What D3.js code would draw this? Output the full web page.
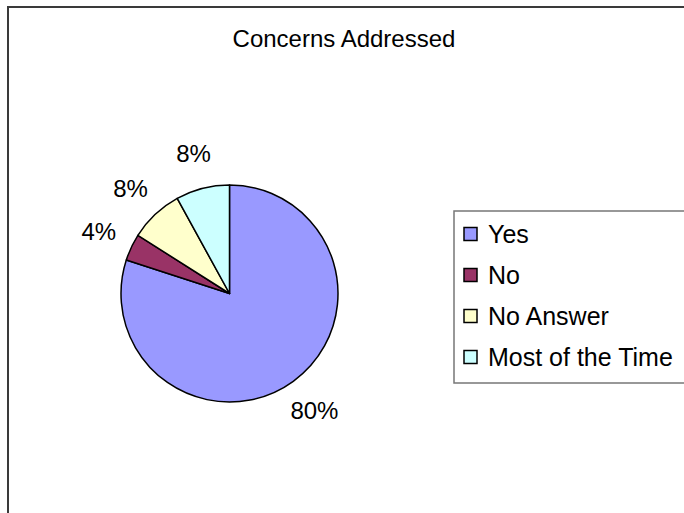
<!DOCTYPE html>
<html>
<head>
<meta charset="utf-8">
<script src="https://cdn.jsdelivr.net/npm/d3@7"></script>
<style>
  html, body { margin: 0; padding: 0; background: #fff; }
  svg { display: block; }
  text { font-family: "Liberation Sans", Arial, sans-serif; fill: #000; }
</style>
</head>
<body>
<svg id="chart" width="684" height="513"></svg>
<script>
// Survey responses: share of answers per category (percent)
const categories = ["Yes", "No", "No Answer", "Most of the Time"];
const values = [80, 4, 8, 8];
const colors = ["#9999FF", "#993366", "#FFFFCC", "#CCFFFF"];
const title = "Concerns Addressed";

const svg = d3.select("#chart");

// outer chart frame (runs past the right and bottom edges)
svg.append("path")
  .attr("d", "M8,520 L8,7 L690,7")
  .attr("fill", "none")
  .attr("stroke", "#3a3a3a")
  .attr("stroke-width", 2);

svg.append("text")
  .attr("x", 344).attr("y", 47)
  .attr("text-anchor", "middle")
  .attr("font-size", 24)
  .text(title);

// pie, starting at 12 o'clock and running clockwise
const cx = 229.5, cy = 293.5, r = 108.5;
const pie = d3.pie().sort(null).value(d => d.v);
const arcs = pie(categories.map((c, i) => ({ c, v: values[i], col: colors[i] })));
const arc = d3.arc().innerRadius(0).outerRadius(r);

const g = svg.append("g").attr("transform", `translate(${cx},${cy})`);
g.selectAll("path.slice")
  .data(arcs)
  .join("path")
  .attr("class", "slice")
  .attr("d", arc)
  .attr("fill", d => d.data.col)
  .attr("stroke", "#000")
  .attr("stroke-width", 1.5)
  .attr("stroke-linejoin", "round");

// percentage labels placed outside the rim
const labelArc = d3.arc().innerRadius(r + 36).outerRadius(r + 36);
const fmt = d => Math.round(d.value / d3.sum(values) * 100) + "%";
g.selectAll("text.lbl")
  .data(arcs)
  .join("text")
  .attr("class", "lbl")
  .attr("transform", d => {
    const [x, y] = labelArc.centroid(d);
    return `translate(${x},${y})`;
  })
  .attr("text-anchor", "middle")
  .attr("dy", "0.35em")
  .attr("font-size", 24)
  .text(fmt);

// legend box
const lx = 454, ly = 211, lh = 172;
svg.append("path")
  .attr("d", `M700,${ly} L${lx},${ly} L${lx},${ly + lh} L700,${ly + lh}`)
  .attr("fill", "#fff")
  .attr("stroke", "#777")
  .attr("stroke-width", 1.5);

const item = svg.append("g").selectAll("g")
  .data(categories)
  .join("g")
  .attr("transform", (d, i) => `translate(${lx + 10},${ly + 23 + i * 41})`);

item.append("rect")
  .attr("x", 0).attr("y", -6.5)
  .attr("width", 13).attr("height", 13)
  .attr("fill", (d, i) => colors[i])
  .attr("stroke", "#000")
  .attr("stroke-width", 1.5);

item.append("text")
  .attr("x", 24).attr("y", 0)
  .attr("dy", "0.35em")
  .attr("font-size", 25)
  .text(d => d);
</script>
</body>
</html>
